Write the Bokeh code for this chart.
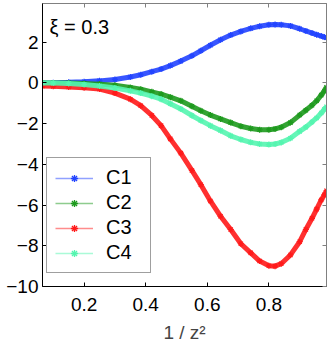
from bokeh.plotting import figure
from bokeh.models import (Range1d, FixedTicker, LinearAxis, Legend, LegendItem,
                          Label, CustomJSTickFormatter, ColumnDataSource)
from bokeh.embed import file_html
from bokeh.resources import INLINE

# ---- data ----
x_vals = [0.065, 0.1, 0.15, 0.2, 0.25, 0.3, 0.35, 0.384, 0.42, 0.45, 0.48, 0.514,
          0.55, 0.579, 0.61, 0.643, 0.676, 0.709, 0.741, 0.77, 0.8, 0.82, 0.84,
          0.87, 0.9, 0.92, 0.94, 0.955, 0.97, 0.98, 0.987]
c1 = [0.0, 0.01, 0.03, 0.06, 0.1, 0.17, 0.29, 0.4, 0.55, 0.68, 0.85, 1.07,
      1.33, 1.58, 1.85, 2.12, 2.35, 2.53, 2.68, 2.78, 2.86, 2.87, 2.86,
      2.8, 2.66, 2.55, 2.45, 2.37, 2.3, 2.25, 2.22]
c2 = [0.0, 0.0, -0.01, -0.03, -0.06, -0.12, -0.22, -0.31, -0.44, -0.55, -0.7, -0.88,
      -1.15, -1.37, -1.58, -1.77, -1.95, -2.13, -2.24, -2.3, -2.3, -2.26, -2.18,
      -1.95, -1.58, -1.34, -1.1, -0.88, -0.6, -0.4, -0.22]
c3 = [-0.15, -0.17, -0.2, -0.24, -0.3, -0.5, -0.8, -1.12, -1.6, -2.1, -2.75, -3.45,
      -4.3, -5.0, -5.8, -6.55, -7.2, -7.9, -8.35, -8.75, -8.98, -9.0, -8.88,
      -8.45, -7.8, -7.2, -6.65, -6.2, -5.75, -5.5, -5.3]
c4 = [0.0, -0.01, -0.03, -0.08, -0.15, -0.25, -0.39, -0.5, -0.65, -0.8, -1.02, -1.28,
      -1.6, -1.85, -2.1, -2.34, -2.6, -2.78, -2.92, -3.0, -3.03, -3.0, -2.93,
      -2.72, -2.38, -2.17, -1.92, -1.72, -1.48, -1.3, -1.17]
series_names = ["C1", "C2", "C3", "C4"]
series_colors = ["#2244ff", "#1e9a1e", "#ff1a1a", "#55f5b0"]
x_ticks = [0.2, 0.4, 0.6, 0.8]
y_ticks = [-10, -8, -6, -4, -2, 0, 2]
annotation = "ξ = 0.3"
x_label = "1 / z²"

FONT = "Liberation Sans"

p = figure(width=333, height=345, output_backend="svg", toolbar_location=None,
           x_range=Range1d(0.065, 0.987), y_range=Range1d(-10, 3.9),
           min_border_left=42, min_border_right=7, min_border_top=3,
           min_border_bottom=58)
p.background_fill_color = "white"
p.border_fill_color = "white"
p.outline_line_color = "#808080"
p.xgrid.visible = False
p.ygrid.visible = False

minus_fmt = CustomJSTickFormatter(code="return String(tick).replace('-', '\u2212');")

for ax in (p.xaxis[0], p.yaxis[0]):
    ax.major_tick_in = 4
    ax.major_tick_out = 0
    ax.minor_tick_line_color = None
    ax.axis_line_color = "black"
    ax.major_tick_line_color = "black"
    ax.major_label_text_font = FONT
    ax.major_label_text_font_size = "19px"
    ax.major_label_text_color = "black"
    ax.formatter = minus_fmt

p.xaxis[0].ticker = FixedTicker(ticks=x_ticks)
p.yaxis[0].ticker = FixedTicker(ticks=y_ticks)
p.xaxis[0].major_label_standoff = 11
p.yaxis[0].major_label_standoff = 4
p.xaxis[0].axis_label = x_label
p.xaxis[0].axis_label_text_font = FONT
p.xaxis[0].axis_label_text_font_size = "19px"
p.xaxis[0].axis_label_text_font_style = "normal"
p.xaxis[0].axis_label_standoff = 8

for loc, ticks in (("above", x_ticks), ("right", y_ticks)):
    ax = LinearAxis(ticker=FixedTicker(ticks=ticks))
    ax.major_tick_in = 4
    ax.major_tick_out = 0
    ax.minor_tick_line_color = None
    ax.axis_line_color = "#808080"
    ax.major_tick_line_color = "#808080"
    ax.major_label_text_font_size = "1px"
    ax.major_label_text_color = None
    ax.major_label_standoff = 0
    p.add_layout(ax, loc)

all_series = [c1, c2, c3, c4]
items = []
for name, color, ys in zip(series_names, series_colors, all_series):
    src = ColumnDataSource(dict(x=x_vals, y=ys))
    p.line("x", "y", source=src, line_color=color, line_width=5, line_alpha=0.9)
    p.scatter("x", "y", source=src, marker="asterisk", size=6,
              line_color=color, line_width=1.2)
    # legend-only renderers (single point placed far outside the visible range)
    off = ColumnDataSource(dict(x=[-100.0], y=[-100.0]))
    lr = p.line("x", "y", source=off, line_color=color, line_width=1.5, line_alpha=0.5)
    mr = p.scatter("x", "y", source=off, marker="asterisk", size=5,
                   line_color=color, line_width=1.3)
    items.append(LegendItem(label=name, renderers=[lr, mr]))

legend = Legend(items=items, location=(4, 13))
legend.label_text_font = FONT
legend.label_text_font_size = "20px"
legend.label_text_color = "black"
legend.glyph_width = 38
legend.glyph_height = 18
legend.label_height = 18
legend.label_width = 36
legend.label_standoff = 13
legend.spacing = 2
legend.padding = 8
legend.margin = 0
legend.border_line_color = "#404040"
legend.border_line_width = 1
legend.background_fill_color = "white"
legend.background_fill_alpha = 1.0
p.add_layout(legend, "center")

p.add_layout(Label(x=0.088, y=2.75, text=annotation, text_font=FONT,
                   text_font_size="20px", text_color="black",
                   text_baseline="alphabetic"))

open("out.html", "w").write(file_html(p, INLINE))
